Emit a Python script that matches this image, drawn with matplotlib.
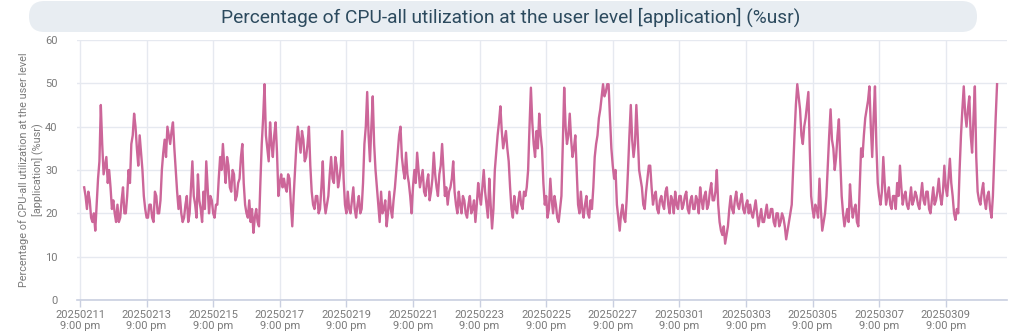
import matplotlib

matplotlib.use("Agg")
import matplotlib.pyplot as plt
import numpy as np
import pandas as pd
from matplotlib.patches import FancyBboxPatch
from matplotlib.transforms import IdentityTransform

# %usr samples, hourly; one row per calendar day starting 2025-02-12 00:00
DAY_ROWS = [
    [26, 24, 21, 25, 23, 19, 18, 20, 16, 22, 28, 32, 45, 36, 29, 31, 33, 27, 30, 26, 21, 23, 20, 18],
    [22, 18, 19, 23, 26, 20, 20, 24, 30, 27, 36, 38, 43, 40, 35, 31, 38, 34, 30, 24, 21, 19, 19, 22],
    [22, 19, 18, 25, 24, 20, 20, 23, 30, 34, 37, 33, 40, 38, 36, 39, 41, 35, 30, 25, 21, 24, 20, 18],
    [19, 22, 24, 18, 20, 26, 32, 24, 22, 19, 29, 23, 21, 18, 25, 21, 32, 26, 20, 24, 23, 20, 19, 22],
    [22, 28, 33, 30, 36, 31, 27, 33, 31, 26, 25, 30, 29, 23, 24, 27, 28, 33, 36, 27, 22, 20, 19, 23],
    [18, 21, 15.5, 19, 21, 18, 17, 27, 36, 42, 49.8, 38, 35, 32, 41, 36, 33, 38, 41, 34, 24, 27, 29, 26],
    [28, 26, 25, 29, 28, 22, 17, 24, 30, 36, 40, 37, 34, 39, 37, 32, 33, 36, 40, 31, 25, 22, 21, 24],
    [24, 20, 21, 26, 32, 23, 20, 22, 24, 29, 33, 28, 27, 33, 31, 26, 28, 31, 39, 28, 22, 20, 25, 21],
    [20, 23, 26, 21, 19, 22, 24, 20, 21, 27, 36, 40, 48, 38, 32, 40, 47, 36, 30, 26, 22, 18, 25, 20],
    [21, 23, 17, 20, 25, 21, 19, 23, 26, 30, 34, 38, 40, 33, 30, 28, 34, 29, 27, 24, 20, 26, 30, 27],
    [34, 30, 26, 28, 30, 25, 24, 27, 29, 23, 25, 28, 34, 29, 26, 24, 29, 31, 36, 30, 24, 26, 22, 25],
    [26, 28, 32, 25, 22, 20, 25, 22, 20, 24, 23, 20, 19, 22, 24, 20, 21, 23, 18, 22, 27, 24, 22, 26],
    [30, 25, 22, 19, 28, 22, 16.5, 21, 30, 34, 38, 41, 44.7, 39, 35, 37, 39, 35, 32, 26, 21, 19, 24, 21],
    [20, 23, 25, 22, 21, 25, 24, 26, 30, 40, 49, 41, 36, 33, 39, 35, 43, 38, 35, 27, 22, 24, 19, 21],
    [28, 23, 20, 24, 22, 19, 18, 21, 24, 36, 49, 40, 36, 38, 43, 37, 33, 35, 38, 30, 22, 20, 25, 21],
    [19, 22, 24, 20, 19, 23, 21, 26, 33, 36, 38, 42, 44, 47, 49.8, 47, 48, 49.8, 49.8, 42, 35, 31, 28, 30],
    [22, 19, 16, 20, 22, 19, 18, 23, 30, 38, 45, 37, 33, 36, 45, 38, 30, 28, 26, 22, 21, 25, 28, 31],
    [31, 26, 22, 24, 25, 21, 20, 23, 24, 22, 21, 25, 26, 22, 20, 24, 23, 20, 25, 22, 21, 24, 24, 21],
    [22, 24, 25, 21, 20, 23, 24, 21, 21, 24, 23, 20, 26, 23, 21, 24, 25, 21, 22, 25, 27, 23, 23, 25],
    [30, 22, 18, 16, 15, 17, 13, 15, 17, 21, 24, 21, 20, 23, 25, 22, 21, 23, 24.5, 21, 20, 22, 23, 20],
    [22, 20, 19, 21, 23, 20, 17, 19, 21, 18, 18, 20, 22, 19, 19, 21, 21, 18, 17, 20, 20, 17, 18, 20],
    [19, 17, 14, 16, 18, 20, 22, 30, 38, 45, 49.8, 47, 44, 38, 36, 40, 42, 45, 48, 35, 24, 21, 19, 22],
    [21, 19, 28, 21, 16, 18, 20, 24, 31, 38, 44, 37, 35, 30, 33, 38, 41.7, 32, 24, 20, 17, 19, 21, 18],
    [26.7, 22, 19, 21, 22, 18, 17, 26, 35, 33, 38, 42, 44, 46, 49.3, 40, 33, 42, 49.3, 36, 27, 24, 22, 25],
    [33, 27, 22, 24, 26, 22, 21, 24, 24, 21, 27, 24, 31, 26, 22, 24, 25, 22, 21, 23, 26, 22, 23, 25],
    [24, 22, 21, 24, 27, 23, 22, 25, 25, 21, 20, 23, 26, 22, 23, 25, 28, 24, 22, 25, 31, 26, 24, 28],
    [32.6, 27, 24, 20, 18.5, 21, 20, 30, 38, 44, 49.3, 43, 40, 44, 47, 38, 34, 42, 49.3, 33, 25, 23, 22, 25],
    [27, 23, 21, 24, 25, 21, 19, 24, 33, 42, 49.8],
]
FIRST_SAMPLE = "2025-02-12 00:00"
TICK_START = "2025-02-11 21:00"
N_TICKS = 14
Y_TICKS = [0, 10, 20, 30, 40, 50, 60]

TITLE = "Percentage of CPU-all utilization at the user level [application] (%usr)"
Y_LABEL = "Percentage of CPU-all utilization at the user level\n[application] (%usr)"

LINE_COLOR = "#cc6699"
GRID_COLOR = "#e6e9f0"
AXIS_COLOR = "#c9cfe0"
TEXT_GRAY = "#7a7a7a"

values = np.array([v for row in DAY_ROWS for v in row], dtype=float)
times = pd.date_range(FIRST_SAMPLE, periods=len(values), freq="1h")
tick_times = pd.date_range(TICK_START, periods=N_TICKS, freq="2D")
tick_labels = [f"{t:%Y%m%d}\n9:00 pm" for t in tick_times]

plt.rcParams["font.family"] = ["Roboto", "DejaVu Sans"]

W, H = 1024, 334
fig = plt.figure(figsize=(W / 100, H / 100), dpi=100)

# title pill, drawn in pixel coordinates
pill = FancyBboxPatch(
    (29, H - 32), 948, 31,
    boxstyle="round,pad=0,rounding_size=15.5",
    transform=IdentityTransform(), facecolor="#e8edf2", edgecolor="none",
)
fig.patches.append(pill)
fig.text(511 / W, 1 - 17 / H, TITLE, ha="center", va="center",
         fontsize=13.8, color="#2c4a5e")

ax = fig.add_axes((77 / W, 34 / H, (1007 - 77) / W, 260 / H))
ax.plot(times, values, color=LINE_COLOR, linewidth=1.7, solid_joinstyle="round")

ax.set_ylim(0, 60)
ax.set_yticks(Y_TICKS)
ax.set_xlim(pd.Timestamp("2025-02-11 18:50"), pd.Timestamp("2025-03-11 17:10"))
ax.set_xticks(tick_times)
ax.set_xticklabels(tick_labels)

ax.grid(True, color=GRID_COLOR, linewidth=1.0)
ax.set_axisbelow(True)
for side in ("top", "right", "left"):
    ax.spines[side].set_visible(False)
ax.spines["bottom"].set_color(AXIS_COLOR)
ax.spines["bottom"].set_linewidth(1.2)
ax.tick_params(axis="x", colors=AXIS_COLOR, length=5, width=1, labelcolor=TEXT_GRAY,
               labelsize=8, pad=2)
ax.tick_params(axis="y", length=0, labelcolor=TEXT_GRAY, labelsize=8, pad=14)
for lab in ax.get_xticklabels():
    lab.set_linespacing(1.2)

ax.set_ylabel(Y_LABEL, fontsize=7.8, color=TEXT_GRAY, labelpad=1, linespacing=1.4)

fig.savefig("out.png", dpi=100)
